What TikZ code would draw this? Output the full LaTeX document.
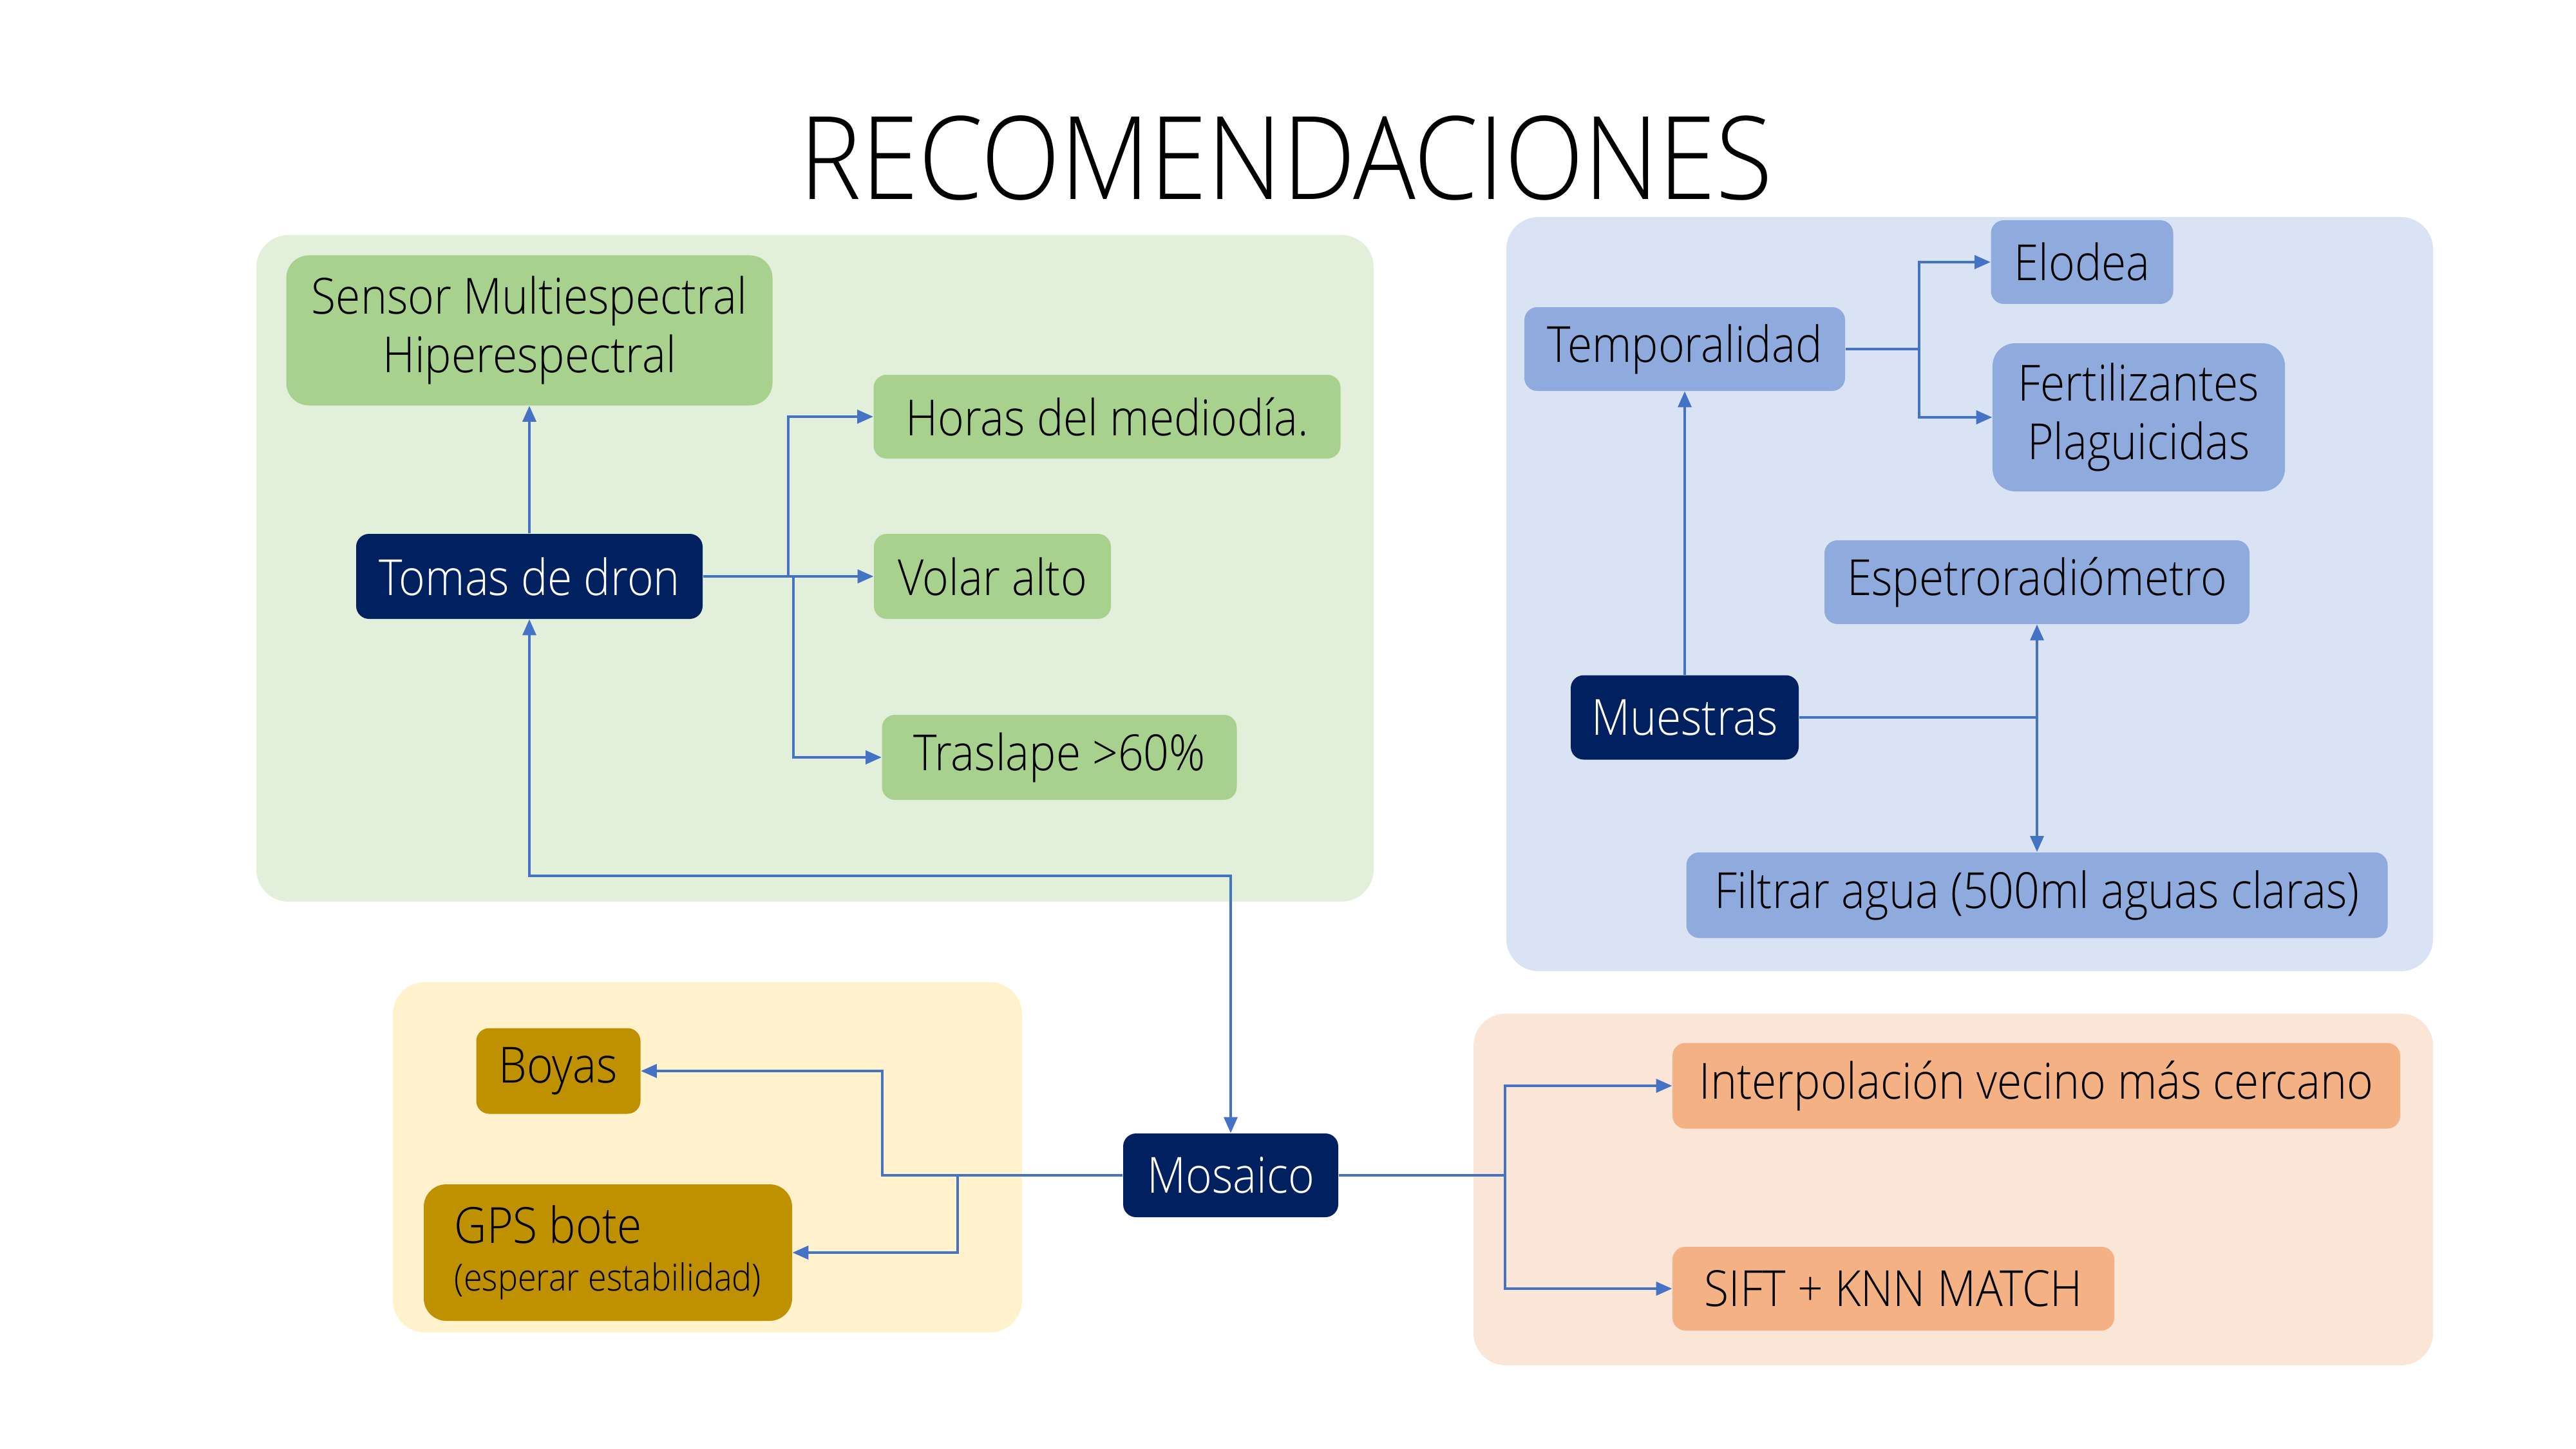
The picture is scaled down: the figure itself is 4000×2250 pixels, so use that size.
\documentclass[tikz,border=0pt]{standalone}
\usepackage{fontspec}
\setmainfont{Open Sans}[UprightFont=* Light, FakeStretch=0.9]
\usetikzlibrary{arrows.meta}
\definecolor{gpanel}{HTML}{E2EFDA}
\definecolor{gbox}{HTML}{A9D18E}
\definecolor{bpanel}{HTML}{DAE3F3}
\definecolor{bbox}{HTML}{8FAADC}
\definecolor{ypanel}{HTML}{FFF2CC}
\definecolor{ybox}{HTML}{BF9000}
\definecolor{opanel}{HTML}{FBE5D6}
\definecolor{obox}{HTML}{F4B183}
\definecolor{navy}{HTML}{002060}
\definecolor{arrc}{HTML}{4472C4}
\begin{document}
\begin{tikzpicture}[x=0.1mm,y=-0.1mm,
  panel/.style={rounded corners=5mm},
  box/.style={rounded corners=2mm, inner sep=0pt, align=center, font=\fontsize{22}{26}\selectfont},
  dark/.style={box, fill=navy, text=white},
  arr/.style={draw=arrc, line width=0.9pt, -{Triangle[width=6pt,length=7pt]}},
  arrb/.style={draw=arrc, line width=0.9pt, {Triangle[width=6pt,length=7pt]}-{Triangle[width=6pt,length=7pt]}}]
\useasboundingbox[fill=white] (0,0) rectangle (4000,2250);
% panels
\fill[panel, gpanel] (398,365) rectangle (2133,1400);
\fill[panel, bpanel] (2339,337) rectangle (3778,1508);
\fill[panel, ypanel] (610,1525) rectangle (1587,2069);
\fill[panel, opanel] (2288,1574) rectangle (3778,2120);
% title
\node[font=\fontsize{51}{57}\selectfont] (title) at (1997,245) {RECOMENDACIONES};
% green
\node[box, fill=gbox, rounded corners=3.5mm, minimum width=75.5mm, minimum height=23.3mm] (sensor) at (822,513) {Sensor Multiespectral\\Hiperespectral};
\node[dark, minimum width=53.8mm, minimum height=13.2mm] (tomas) at (822,895) {Tomas de dron};
\node[box, fill=gbox, minimum width=72.5mm, minimum height=13mm] (horas) at (1719,647) {Horas del mediodía.};
\node[box, fill=gbox, minimum width=36.8mm, minimum height=13.2mm] (volar) at (1541,895) {Volar alto};
\node[box, fill=gbox, minimum width=55.1mm, minimum height=13.2mm] (traslape) at (1645,1176) {Traslape >60\%};
% blue
\node[box, fill=bbox, minimum width=49.8mm, minimum height=13mm] (temp) at (2616,542) {Temporalidad};
\node[box, fill=bbox, minimum width=28.3mm, minimum height=13mm] (elodea) at (3233,407) {Elodea};
\node[box, fill=bbox, rounded corners=3.5mm, minimum width=45.4mm, minimum height=23mm] (fert) at (3321,648) {Fertilizantes\\Plaguicidas};
\node[box, fill=bbox, minimum width=66mm, minimum height=13mm] (espetro) at (3163,904) {Espetroradiómetro};
\node[dark, minimum width=35.4mm, minimum height=13.1mm] (muestras) at (2616,1114) {Muestras};
\node[box, fill=bbox, minimum width=108.9mm, minimum height=13.3mm] (filtrar) at (3163,1390) {Filtrar agua (500ml aguas claras)};
% yellow
\node[box, fill=ybox, minimum width=25.5mm, minimum height=13.3mm] (boyas) at (867,1663) {Boyas};
\node[box, fill=ybox, rounded corners=3.5mm, minimum width=57.2mm, minimum height=21.2mm, align=left] (gps) at (944,1945) {GPS bote\\[-5pt]{\fontsize{16.5}{20}\selectfont (esperar estabilidad)}};
% center
\node[dark, minimum width=33.4mm, minimum height=13mm] (mosaico) at (1911,1825) {Mosaico};
% orange
\node[box, fill=obox, minimum width=113mm, minimum height=13.3mm] (interp) at (3162,1686) {Interpolación vecino más cercano};
\node[box, fill=obox, minimum width=68.6mm, minimum height=13mm] (sift) at (2940,2001) {SIFT + KNN MATCH};
% connectors
\coordinate (j1) at (1224,895);
\coordinate (j2) at (1232,895);
\draw[arr] (tomas.north) -- (sensor.south);
\draw[arr] (tomas.east) -- (j1) |- (horas.west);
\draw[arr] (j1) -- (volar.west);
\draw[arr] (j2) |- (traslape.west);
\coordinate (jt) at (1911,1360);
\draw[arrb] (tomas.south) |- (jt) -- (mosaico.north);
\coordinate (j3) at (2980,542);
\draw[arr] (temp.east) -- (j3) |- (elodea.west);
\draw[arr] (j3) |- (fert.west);
\draw[arr] (muestras.north) -- (temp.south);
\coordinate (j4) at (3163,1114);
\draw[arr] (muestras.east) -- (j4) -- (espetro.south);
\draw[arr] (j4) -- (filtrar.north);
\coordinate (j5) at (1370,1825);
\coordinate (j6) at (1487,1825);
\draw[arr] (mosaico.west) -- (j5) |- (boyas.east);
\draw[arr] (j6) |- (gps.east);
\coordinate (j7) at (2337,1825);
\draw[arr] (mosaico.east) -- (j7) |- (interp.west);
\draw[arr] (j7) |- (sift.west);
\end{tikzpicture}
\end{document}
